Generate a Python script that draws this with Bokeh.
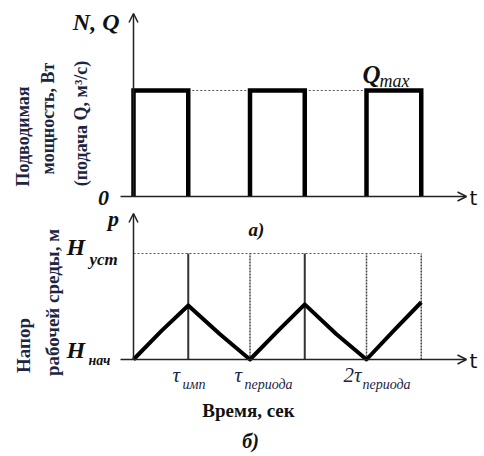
from bokeh.plotting import figure
from bokeh.models import Range1d, Arrow, OpenHead, Label
from bokeh.embed import file_html
from bokeh.resources import INLINE
import math

# ---- data ----
period = 1.0
tau_imp = 0.47
pulse_starts = [0.0, 1.0, 2.0]
q_max = 1.0
h_ust = 1.0
h_nach = 0.0
h_t = [0.0, 0.24, 0.47, 0.74, 1.0, 1.24, 1.47, 1.74, 2.0, 2.24, 2.47]
h_val = [0.0, 0.27, 0.51, 0.24, 0.0, 0.27, 0.52, 0.24, 0.0, 0.28, 0.54]
solid_marks = [0.47, 1.47]
dotted_marks = [1.0, 2.0, 2.47]
tick_labels = [("τ", "имп", 0.47), ("τ", "периода", 1.0), ("2τ", "периода", 2.0)]

# ---- layout helpers (picture px -> data) ----
SX = 116.5
X0PX = 133
def tx(px):
    return (px - X0PX) / SX
def ty_top(py):
    return (196 - py) / 106
def ty_bot(py):
    return (359 - py) / 106

W, H = 484, 456
p = figure(width=W, height=H, output_backend="svg", toolbar_location=None,
           x_range=Range1d(tx(0), tx(W)),
           y_range=Range1d(ty_bot(H), ty_bot(0)),
           x_axis_location=None, y_axis_location=None, min_border=0)
p.extra_y_ranges = {"top": Range1d(ty_top(H), ty_top(0))}
p.grid.visible = False
p.outline_line_color = None

AX = "#222222"
NAVY = "#1c2541"
SERIF = "Liberation Serif"

# ---- top panel ----
for s in pulse_starts[:-1]:
    p.line([s + tau_imp, s + period], [q_max, q_max], y_range_name="top",
           line_color="#555555", line_width=1.2, line_dash="2 2")
for s in pulse_starts:
    p.line([s, s, s + tau_imp, s + tau_imp], [0, q_max, q_max, 0], y_range_name="top",
           line_color="#000000", line_width=4.5, line_join="miter")
p.add_layout(Arrow(end=OpenHead(size=9, line_width=1.5, line_color=AX),
                   x_start=tx(120), y_start=0, x_end=tx(466), y_end=0,
                   line_width=1.5, line_color=AX, y_range_name="top"))
p.add_layout(Arrow(end=OpenHead(size=9, line_width=1.5, line_color=AX),
                   x_start=0, y_start=0, x_end=0, y_end=ty_top(13),
                   line_width=1.5, line_color=AX, y_range_name="top"))

# ---- bottom panel ----
p.line([0, 2.47], [h_ust, h_ust], line_color="#555555", line_width=1.2, line_dash="2 2")
for m in solid_marks:
    p.line([m, m], [h_nach, h_ust], line_color="#333333", line_width=2)
for m in dotted_marks:
    p.line([m, m], [h_nach, h_ust], line_color="#444444", line_width=1.5, line_dash="2 1")
p.line(h_t, h_val, line_color="#000000", line_width=4, line_join="round")
p.add_layout(Arrow(end=OpenHead(size=9, line_width=1.5, line_color=AX),
                   x_start=tx(120), y_start=0, x_end=tx(466), y_end=0,
                   line_width=1.5, line_color=AX))
p.add_layout(Arrow(end=OpenHead(size=9, line_width=1.5, line_color=AX),
                   x_start=0, y_start=0, x_end=0, y_end=ty_bot(213),
                   line_width=1.5, line_color=AX))

# ---- texts ----
def lab(text, px, py, size, top=False, style="bold italic", color="#111111",
        align="left", baseline="middle", angle=0.0, font=SERIF):
    kw = dict(x=tx(px), y=(ty_top(py) if top else ty_bot(py)), text=text,
              text_font=font, text_font_size=f"{size}px", text_font_style=style,
              text_color=color, text_align=align, text_baseline=baseline, angle=angle)
    if top:
        kw["y_range_name"] = "top"
    p.add_layout(Label(**kw))

lab("N, Q", 119, 21, 24, top=True, align="right")
lab("0", 103, 197, 22, top=True, align="center")
lab("Q", 362, 74, 25, top=True)
lab("max", 379, 80, 18, top=True, style="italic")
lab("t", 469, 197, 20, top=True, style="normal", font="DejaVu Sans")
lab("а)", 256, 229, 19, top=True, align="center")

lab("p", 113, 218, 22, align="center")
lab("H", 66, 246, 24)
lab("уст", 89, 259, 17, style="bold italic")
lab("H", 66, 349, 24)
lab("нач", 88, 360, 14, style="bold italic")
lab("t", 469, 360, 20, style="normal", font="DejaVu Sans")

tau_pos = [(172, 182), (234, 244), (343, 362)]
for (main, sub, _), (mx, sx) in zip(tick_labels, tau_pos):
    lab(main, mx, 374, 21, style="italic", color=NAVY)
    lab(sub, sx, 384, 14, style="italic", color=NAVY)

lab("Время, сек", 248, 410, 19, style="bold", align="center")
lab("б)", 250, 440, 20, align="center")

A = math.pi / 2
lab("Подводимая", 22, 136, 18, top=True, style="bold", color=NAVY, align="center", angle=A)
lab("мощность, Вт", 47, 118, 18, top=True, style="bold", color=NAVY, align="center", angle=A)
lab("(подача Q, м³/с)", 80, 123, 18, top=True, style="bold", color=NAVY, align="center", angle=A)
lab("Напор", 23, 345, 19, style="bold", color=NAVY, align="center", angle=A)
lab("рабочей среды, м", 52, 302, 19, style="bold", color=NAVY, align="center", angle=A)

open("out.html", "w").write(file_html(p, INLINE))
